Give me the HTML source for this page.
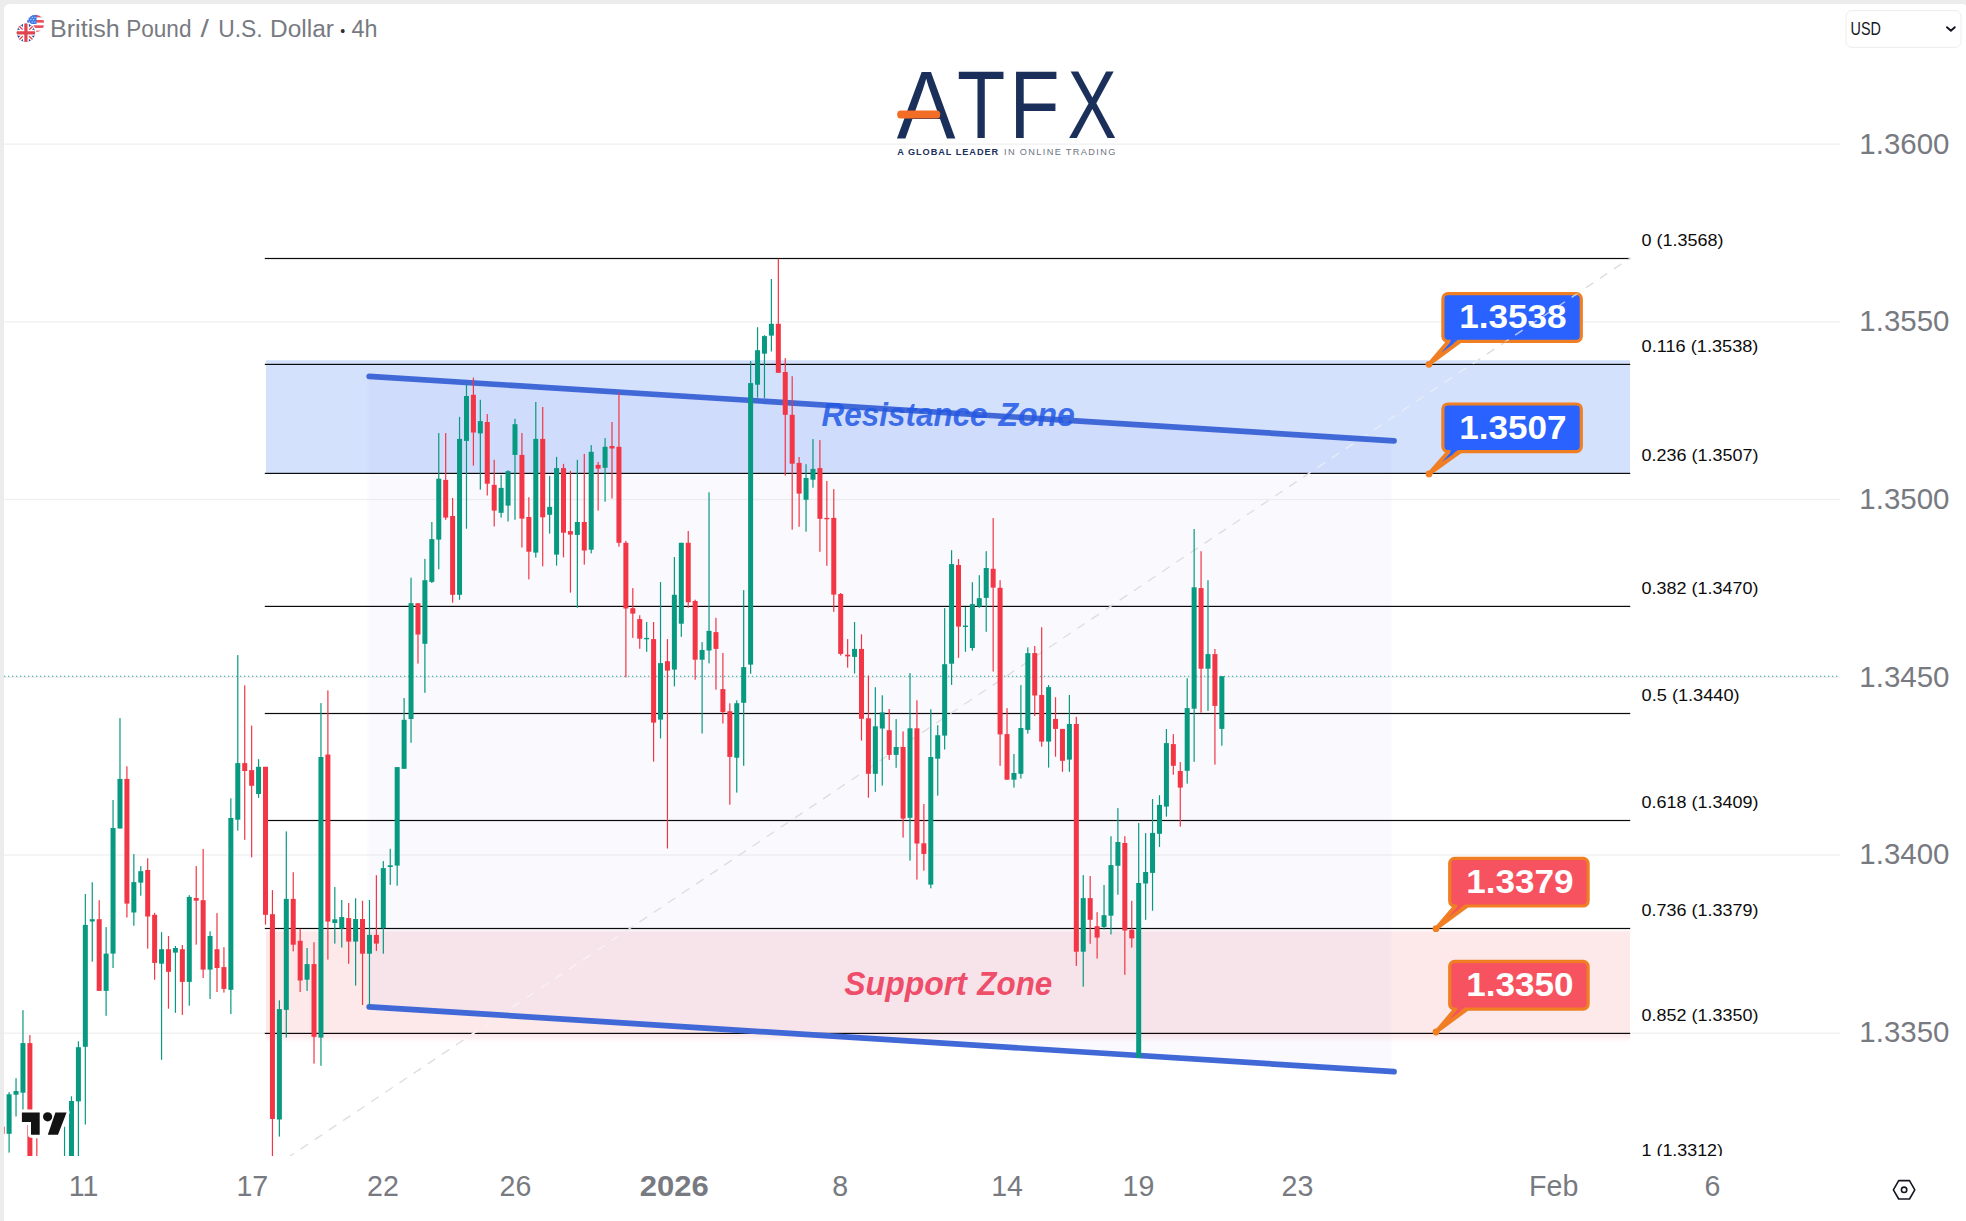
<!DOCTYPE html>
<html lang="en"><head><meta charset="utf-8"><title>GBPUSD 4h chart</title>
<style>html,body{margin:0;padding:0;background:#fff;}body{width:1966px;height:1221px;overflow:hidden;font-family:"Liberation Sans",sans-serif;}svg{display:block;}text{font-family:"Liberation Sans",sans-serif;}</style>
</head><body>
<svg width="1966" height="1221" viewBox="0 0 1966 1221">
<defs><clipPath id="chart"><rect x="4" y="4" width="1836" height="1152"/></clipPath></defs>
<rect x="0" y="0" width="1966" height="1221" fill="#ececec"/>
<path d="M4 1221 L4 10 Q4 4 10 4 L1963 4 Q1966 4 1966 7 L1966 1221 Z" fill="#ffffff"/>
<rect x="4" y="143.45" width="1836" height="1.3" fill="#f0f0f2"/>
<rect x="4" y="321.15" width="1836" height="1.3" fill="#f0f0f2"/>
<rect x="4" y="498.85" width="1836" height="1.3" fill="#f0f0f2"/>
<rect x="4" y="676.65" width="1836" height="1.3" fill="#f0f0f2"/>
<rect x="4" y="854.35" width="1836" height="1.3" fill="#f0f0f2"/>
<rect x="4" y="1032.55" width="1836" height="1.3" fill="#f0f0f2"/>
<g clip-path="url(#chart)">
<rect x="266" y="360.2" width="1364" height="112.8" fill="#d3e1fd"/>
<linearGradient id="pg" x1="0" y1="0" x2="0" y2="1"><stop offset="0" stop-color="#fde8ea" stop-opacity="0"/><stop offset="0.025" stop-color="#fde8ea" stop-opacity="1"/><stop offset="0.93" stop-color="#fde8ea" stop-opacity="1"/><stop offset="1" stop-color="#fde8ea" stop-opacity="0"/></linearGradient>
<rect x="266" y="929.6" width="1364" height="113" fill="url(#pg)"/>
<filter id="bl" x="-2%" y="-2%" width="104%" height="104%"><feGaussianBlur stdDeviation="1.3"/></filter>
<polygon points="368,376 1391,440.7 1391,1071.6 368,1006.7" fill="#4a4ad8" fill-opacity="0.036" filter="url(#bl)"/>
<rect x="264.8" y="257.90" width="1365.4" height="1.2" fill="#0a0a0a"/>
<rect x="264.8" y="363.80" width="1365.4" height="1.2" fill="#0a0a0a"/>
<rect x="264.8" y="472.80" width="1365.4" height="1.2" fill="#0a0a0a"/>
<rect x="264.8" y="605.80" width="1365.4" height="1.2" fill="#0a0a0a"/>
<rect x="264.8" y="712.90" width="1365.4" height="1.2" fill="#0a0a0a"/>
<rect x="264.8" y="819.90" width="1365.4" height="1.2" fill="#0a0a0a"/>
<rect x="264.8" y="927.90" width="1365.4" height="1.2" fill="#0a0a0a"/>
<rect x="264.8" y="1032.80" width="1365.4" height="1.2" fill="#0a0a0a"/>
<rect x="264.8" y="1167.70" width="1365.4" height="1.2" fill="#0a0a0a"/>
<line x1="4" y1="676.3" x2="1840" y2="676.3" stroke="#089981" stroke-opacity="0.9" stroke-width="1.05" stroke-dasharray="1.25 2.75"/>
<line x1="272.4" y1="1168" x2="1630" y2="258.2" stroke="#dededf" stroke-width="1.35" stroke-dasharray="9 8"/>
<clipPath id="bz"><rect x="266" y="360.2" width="1364" height="112.8"/></clipPath>
<line x1="272.4" y1="1168" x2="1630" y2="258.2" stroke="#e3ebfc" stroke-width="1.6" stroke-dasharray="9 8" clip-path="url(#bz)"/>
<clipPath id="pz"><rect x="266" y="930.5" width="1364" height="108"/></clipPath>
<line x1="272.4" y1="1168" x2="1630" y2="258.2" stroke="#fbf1f2" stroke-width="1.6" stroke-dasharray="9 8" clip-path="url(#pz)"/>
<line x1="369.2" y1="376.4" x2="1394" y2="440.9" stroke="#4068d6" stroke-width="5.7" stroke-linecap="round"/>
<line x1="369.2" y1="1006.8" x2="1394" y2="1071.7" stroke="#4068d6" stroke-width="5.7" stroke-linecap="round"/>
<rect x="1.57" y="1120.0" width="1.2" height="20.0" fill="#f23645"/><rect x="-0.33" y="1126.6" width="5" height="7.2" fill="#f23645"/>
<rect x="8.50" y="1092.1" width="1.2" height="60.5" fill="#089981"/><rect x="6.60" y="1094.3" width="5" height="39.5" fill="#089981"/>
<rect x="15.43" y="1078.2" width="1.2" height="38.3" fill="#089981"/><rect x="13.53" y="1091.0" width="5" height="3.7" fill="#089981"/>
<rect x="22.36" y="1010.2" width="1.2" height="99.8" fill="#089981"/><rect x="20.46" y="1043.1" width="5" height="49.6" fill="#089981"/>
<rect x="29.29" y="1035.1" width="1.2" height="129.9" fill="#f23645"/><rect x="27.39" y="1043.1" width="5" height="121.9" fill="#f23645"/>
<rect x="36.22" y="1138.3" width="1.2" height="26.7" fill="#f23645"/><rect x="34.32" y="1160.0" width="5" height="5.0" fill="#f23645"/>
<rect x="63.94" y="1126.6" width="1.2" height="38.4" fill="#089981"/><rect x="62.04" y="1160.0" width="5" height="5.0" fill="#089981"/>
<rect x="70.87" y="1096.3" width="1.2" height="68.7" fill="#089981"/><rect x="68.97" y="1101.0" width="5" height="64.0" fill="#089981"/>
<rect x="77.80" y="1041.3" width="1.2" height="123.7" fill="#089981"/><rect x="75.90" y="1047.2" width="5" height="54.2" fill="#089981"/>
<rect x="84.73" y="894.0" width="1.2" height="230.5" fill="#089981"/><rect x="82.83" y="924.9" width="5" height="121.9" fill="#089981"/>
<rect x="91.66" y="882.3" width="1.2" height="79.4" fill="#089981"/><rect x="89.76" y="919.2" width="5" height="2.3" fill="#089981"/>
<rect x="98.59" y="900.2" width="1.2" height="90.7" fill="#f23645"/><rect x="96.69" y="919.2" width="5" height="71.7" fill="#f23645"/>
<rect x="105.52" y="927.1" width="1.2" height="88.7" fill="#089981"/><rect x="103.62" y="953.6" width="5" height="37.3" fill="#089981"/>
<rect x="112.45" y="800.0" width="1.2" height="168.0" fill="#089981"/><rect x="110.55" y="828.0" width="5" height="125.6" fill="#089981"/>
<rect x="119.38" y="718.1" width="1.2" height="110.4" fill="#089981"/><rect x="117.48" y="778.9" width="5" height="49.6" fill="#089981"/>
<rect x="126.31" y="766.3" width="1.2" height="151.2" fill="#f23645"/><rect x="124.41" y="778.9" width="5" height="124.7" fill="#f23645"/>
<rect x="133.24" y="854.1" width="1.2" height="71.6" fill="#089981"/><rect x="131.34" y="882.1" width="5" height="30.4" fill="#089981"/>
<rect x="140.17" y="866.1" width="1.2" height="29.6" fill="#089981"/><rect x="138.27" y="871.2" width="5" height="11.4" fill="#089981"/>
<rect x="147.10" y="858.3" width="1.2" height="90.3" fill="#f23645"/><rect x="145.20" y="870.0" width="5" height="46.5" fill="#f23645"/>
<rect x="154.03" y="912.8" width="1.2" height="66.9" fill="#f23645"/><rect x="152.13" y="914.8" width="5" height="48.1" fill="#f23645"/>
<rect x="160.96" y="932.1" width="1.2" height="127.7" fill="#089981"/><rect x="159.06" y="949.2" width="5" height="14.5" fill="#089981"/>
<rect x="167.89" y="936.0" width="1.2" height="72.7" fill="#f23645"/><rect x="165.99" y="949.2" width="5" height="22.6" fill="#f23645"/>
<rect x="174.82" y="946.0" width="1.2" height="66.8" fill="#089981"/><rect x="172.92" y="948.0" width="5" height="4.6" fill="#089981"/>
<rect x="181.75" y="945.0" width="1.2" height="69.9" fill="#f23645"/><rect x="179.85" y="949.2" width="5" height="32.7" fill="#f23645"/>
<rect x="188.68" y="895.2" width="1.2" height="110.5" fill="#089981"/><rect x="186.78" y="896.9" width="5" height="85.0" fill="#089981"/>
<rect x="195.61" y="866.1" width="1.2" height="78.6" fill="#f23645"/><rect x="193.71" y="898.0" width="5" height="2.7" fill="#f23645"/>
<rect x="202.54" y="849.0" width="1.2" height="129.0" fill="#f23645"/><rect x="200.64" y="900.2" width="5" height="69.4" fill="#f23645"/>
<rect x="209.47" y="931.3" width="1.2" height="67.7" fill="#089981"/><rect x="207.57" y="936.0" width="5" height="33.6" fill="#089981"/>
<rect x="216.40" y="913.1" width="1.2" height="78.9" fill="#f23645"/><rect x="214.50" y="949.2" width="5" height="18.8" fill="#f23645"/>
<rect x="223.33" y="947.2" width="1.2" height="45.4" fill="#f23645"/><rect x="221.43" y="967.1" width="5" height="21.8" fill="#f23645"/>
<rect x="230.26" y="798.3" width="1.2" height="215.8" fill="#089981"/><rect x="228.36" y="818.0" width="5" height="171.8" fill="#089981"/>
<rect x="237.19" y="655.1" width="1.2" height="175.5" fill="#089981"/><rect x="235.29" y="763.1" width="5" height="56.6" fill="#089981"/>
<rect x="244.12" y="685.3" width="1.2" height="154.5" fill="#f23645"/><rect x="242.22" y="763.1" width="5" height="7.9" fill="#f23645"/>
<rect x="251.05" y="725.6" width="1.2" height="131.8" fill="#f23645"/><rect x="249.15" y="770.1" width="5" height="15.7" fill="#f23645"/>
<rect x="257.98" y="759.2" width="1.2" height="38.6" fill="#089981"/><rect x="256.08" y="766.8" width="5" height="27.2" fill="#089981"/>
<rect x="264.91" y="766.8" width="1.2" height="157.8" fill="#f23645"/><rect x="263.01" y="766.8" width="5" height="148.0" fill="#f23645"/>
<rect x="271.84" y="890.1" width="1.2" height="274.9" fill="#f23645"/><rect x="269.94" y="914.2" width="5" height="204.8" fill="#f23645"/>
<rect x="278.77" y="1000.3" width="1.2" height="136.3" fill="#089981"/><rect x="276.87" y="1009.1" width="5" height="110.4" fill="#089981"/>
<rect x="285.70" y="831.4" width="1.2" height="206.2" fill="#089981"/><rect x="283.80" y="898.9" width="5" height="111.0" fill="#089981"/>
<rect x="292.63" y="872.2" width="1.2" height="79.2" fill="#f23645"/><rect x="290.73" y="898.9" width="5" height="45.8" fill="#f23645"/>
<rect x="299.56" y="928.7" width="1.2" height="63.3" fill="#f23645"/><rect x="297.66" y="940.8" width="5" height="39.7" fill="#f23645"/>
<rect x="306.49" y="948.0" width="1.2" height="42.9" fill="#089981"/><rect x="304.59" y="964.1" width="5" height="15.6" fill="#089981"/>
<rect x="313.42" y="942.2" width="1.2" height="121.4" fill="#f23645"/><rect x="311.52" y="964.1" width="5" height="72.7" fill="#f23645"/>
<rect x="320.35" y="703.1" width="1.2" height="362.7" fill="#089981"/><rect x="318.45" y="757.0" width="5" height="280.6" fill="#089981"/>
<rect x="327.28" y="690.4" width="1.2" height="269.2" fill="#f23645"/><rect x="325.38" y="754.5" width="5" height="167.1" fill="#f23645"/>
<rect x="334.21" y="887.1" width="1.2" height="56.5" fill="#089981"/><rect x="332.31" y="919.3" width="5" height="3.7" fill="#089981"/>
<rect x="341.14" y="900.0" width="1.2" height="47.5" fill="#089981"/><rect x="339.24" y="917.1" width="5" height="11.4" fill="#089981"/>
<rect x="348.07" y="903.0" width="1.2" height="60.8" fill="#f23645"/><rect x="346.17" y="918.1" width="5" height="23.5" fill="#f23645"/>
<rect x="355.00" y="898.3" width="1.2" height="87.3" fill="#089981"/><rect x="353.10" y="919.0" width="5" height="22.6" fill="#089981"/>
<rect x="361.93" y="900.8" width="1.2" height="104.2" fill="#f23645"/><rect x="360.03" y="919.0" width="5" height="34.7" fill="#f23645"/>
<rect x="368.86" y="900.0" width="1.2" height="105.7" fill="#089981"/><rect x="366.96" y="934.9" width="5" height="18.8" fill="#089981"/>
<rect x="375.79" y="875.2" width="1.2" height="75.7" fill="#f23645"/><rect x="373.89" y="934.9" width="5" height="8.7" fill="#f23645"/>
<rect x="382.72" y="861.1" width="1.2" height="92.6" fill="#089981"/><rect x="380.82" y="868.1" width="5" height="60.1" fill="#089981"/>
<rect x="389.65" y="848.8" width="1.2" height="36.1" fill="#089981"/><rect x="387.75" y="865.3" width="5" height="1.7" fill="#089981"/>
<rect x="396.58" y="767.1" width="1.2" height="118.6" fill="#089981"/><rect x="394.68" y="767.1" width="5" height="98.5" fill="#089981"/>
<rect x="403.51" y="698.0" width="1.2" height="70.8" fill="#089981"/><rect x="401.61" y="719.8" width="5" height="49.0" fill="#089981"/>
<rect x="410.44" y="577.7" width="1.2" height="165.1" fill="#089981"/><rect x="408.54" y="603.2" width="5" height="115.8" fill="#089981"/>
<rect x="417.37" y="603.2" width="1.2" height="60.4" fill="#f23645"/><rect x="415.47" y="603.2" width="5" height="31.3" fill="#f23645"/>
<rect x="424.30" y="558.9" width="1.2" height="133.9" fill="#089981"/><rect x="422.40" y="580.2" width="5" height="63.6" fill="#089981"/>
<rect x="431.23" y="522.0" width="1.2" height="61.0" fill="#089981"/><rect x="429.33" y="539.1" width="5" height="42.8" fill="#089981"/>
<rect x="438.16" y="433.0" width="1.2" height="136.3" fill="#089981"/><rect x="436.26" y="478.7" width="5" height="60.9" fill="#089981"/>
<rect x="445.09" y="433.0" width="1.2" height="86.8" fill="#f23645"/><rect x="443.19" y="479.9" width="5" height="37.7" fill="#f23645"/>
<rect x="452.02" y="498.0" width="1.2" height="104.7" fill="#f23645"/><rect x="450.12" y="516.0" width="5" height="78.8" fill="#f23645"/>
<rect x="458.95" y="416.9" width="1.2" height="182.9" fill="#089981"/><rect x="457.05" y="438.9" width="5" height="155.9" fill="#089981"/>
<rect x="465.88" y="384.7" width="1.2" height="144.0" fill="#089981"/><rect x="463.98" y="396.0" width="5" height="44.9" fill="#089981"/>
<rect x="472.81" y="377.6" width="1.2" height="88.0" fill="#f23645"/><rect x="470.91" y="394.8" width="5" height="37.7" fill="#f23645"/>
<rect x="479.74" y="399.8" width="1.2" height="89.8" fill="#089981"/><rect x="477.84" y="421.1" width="5" height="12.3" fill="#089981"/>
<rect x="486.67" y="414.1" width="1.2" height="81.4" fill="#f23645"/><rect x="484.77" y="422.0" width="5" height="61.7" fill="#f23645"/>
<rect x="493.60" y="459.9" width="1.2" height="66.6" fill="#f23645"/><rect x="491.70" y="484.9" width="5" height="25.7" fill="#f23645"/>
<rect x="500.53" y="475.0" width="1.2" height="42.6" fill="#089981"/><rect x="498.63" y="487.9" width="5" height="24.9" fill="#089981"/>
<rect x="507.46" y="470.3" width="1.2" height="51.2" fill="#089981"/><rect x="505.56" y="471.2" width="5" height="34.4" fill="#089981"/>
<rect x="514.39" y="418.8" width="1.2" height="101.0" fill="#089981"/><rect x="512.49" y="424.2" width="5" height="30.7" fill="#089981"/>
<rect x="521.32" y="433.0" width="1.2" height="114.5" fill="#f23645"/><rect x="519.42" y="454.9" width="5" height="63.7" fill="#f23645"/>
<rect x="528.25" y="497.2" width="1.2" height="82.2" fill="#f23645"/><rect x="526.35" y="517.0" width="5" height="34.7" fill="#f23645"/>
<rect x="535.18" y="402.0" width="1.2" height="155.6" fill="#089981"/><rect x="533.28" y="438.9" width="5" height="113.7" fill="#089981"/>
<rect x="542.11" y="407.0" width="1.2" height="159.3" fill="#f23645"/><rect x="540.21" y="438.9" width="5" height="78.4" fill="#f23645"/>
<rect x="549.04" y="475.9" width="1.2" height="57.7" fill="#089981"/><rect x="547.14" y="506.9" width="5" height="7.9" fill="#089981"/>
<rect x="555.97" y="456.9" width="1.2" height="108.7" fill="#089981"/><rect x="554.07" y="468.1" width="5" height="86.5" fill="#089981"/>
<rect x="562.90" y="463.9" width="1.2" height="93.4" fill="#f23645"/><rect x="561.00" y="468.1" width="5" height="64.6" fill="#f23645"/>
<rect x="569.83" y="470.8" width="1.2" height="121.8" fill="#f23645"/><rect x="567.93" y="531.1" width="5" height="3.5" fill="#f23645"/>
<rect x="576.76" y="459.9" width="1.2" height="147.8" fill="#089981"/><rect x="574.86" y="522.0" width="5" height="12.9" fill="#089981"/>
<rect x="583.69" y="453.9" width="1.2" height="110.7" fill="#f23645"/><rect x="581.79" y="522.0" width="5" height="28.5" fill="#f23645"/>
<rect x="590.62" y="445.1" width="1.2" height="108.3" fill="#089981"/><rect x="588.72" y="451.8" width="5" height="97.9" fill="#089981"/>
<rect x="597.55" y="461.9" width="1.2" height="48.7" fill="#f23645"/><rect x="595.65" y="464.9" width="5" height="3.7" fill="#f23645"/>
<rect x="604.48" y="438.1" width="1.2" height="63.6" fill="#089981"/><rect x="602.58" y="446.8" width="5" height="21.0" fill="#089981"/>
<rect x="611.41" y="422.0" width="1.2" height="76.5" fill="#f23645"/><rect x="609.51" y="446.0" width="5" height="2.5" fill="#f23645"/>
<rect x="618.34" y="392.8" width="1.2" height="153.9" fill="#f23645"/><rect x="616.44" y="446.8" width="5" height="96.0" fill="#f23645"/>
<rect x="625.27" y="540.8" width="1.2" height="136.5" fill="#f23645"/><rect x="623.37" y="542.8" width="5" height="65.7" fill="#f23645"/>
<rect x="632.20" y="588.1" width="1.2" height="49.8" fill="#f23645"/><rect x="630.30" y="608.2" width="5" height="5.4" fill="#f23645"/>
<rect x="639.13" y="615.2" width="1.2" height="33.6" fill="#f23645"/><rect x="637.23" y="619.1" width="5" height="19.6" fill="#f23645"/>
<rect x="646.06" y="622.0" width="1.2" height="29.8" fill="#089981"/><rect x="644.16" y="637.9" width="5" height="1.4" fill="#089981"/>
<rect x="652.99" y="622.0" width="1.2" height="139.6" fill="#f23645"/><rect x="651.09" y="639.1" width="5" height="83.5" fill="#f23645"/>
<rect x="659.92" y="582.1" width="1.2" height="156.3" fill="#089981"/><rect x="658.02" y="663.1" width="5" height="56.5" fill="#089981"/>
<rect x="666.85" y="639.1" width="1.2" height="209.4" fill="#f23645"/><rect x="664.95" y="661.2" width="5" height="9.4" fill="#f23645"/>
<rect x="673.78" y="557.0" width="1.2" height="129.4" fill="#089981"/><rect x="671.88" y="594.8" width="5" height="74.8" fill="#089981"/>
<rect x="680.71" y="542.8" width="1.2" height="94.0" fill="#089981"/><rect x="678.81" y="542.8" width="5" height="80.9" fill="#089981"/>
<rect x="687.64" y="531.0" width="1.2" height="76.7" fill="#f23645"/><rect x="685.74" y="542.8" width="5" height="59.4" fill="#f23645"/>
<rect x="694.57" y="599.7" width="1.2" height="80.0" fill="#f23645"/><rect x="692.67" y="601.0" width="5" height="58.7" fill="#f23645"/>
<rect x="701.50" y="642.1" width="1.2" height="91.4" fill="#089981"/><rect x="699.60" y="650.0" width="5" height="9.7" fill="#089981"/>
<rect x="708.43" y="492.3" width="1.2" height="171.1" fill="#089981"/><rect x="706.53" y="630.9" width="5" height="19.6" fill="#089981"/>
<rect x="715.36" y="617.8" width="1.2" height="71.9" fill="#f23645"/><rect x="713.46" y="632.1" width="5" height="16.8" fill="#f23645"/>
<rect x="722.29" y="653.0" width="1.2" height="70.5" fill="#f23645"/><rect x="720.39" y="689.1" width="5" height="23.0" fill="#f23645"/>
<rect x="729.22" y="703.3" width="1.2" height="101.4" fill="#f23645"/><rect x="727.32" y="711.2" width="5" height="45.7" fill="#f23645"/>
<rect x="736.15" y="700.3" width="1.2" height="92.3" fill="#089981"/><rect x="734.25" y="703.2" width="5" height="54.5" fill="#089981"/>
<rect x="743.08" y="590.1" width="1.2" height="175.7" fill="#089981"/><rect x="741.18" y="667.1" width="5" height="35.7" fill="#089981"/>
<rect x="750.01" y="361.1" width="1.2" height="312.7" fill="#089981"/><rect x="748.11" y="383.1" width="5" height="281.5" fill="#089981"/>
<rect x="756.94" y="327.2" width="1.2" height="70.5" fill="#089981"/><rect x="755.04" y="350.2" width="5" height="34.5" fill="#089981"/>
<rect x="763.87" y="335.2" width="1.2" height="62.8" fill="#089981"/><rect x="761.97" y="336.1" width="5" height="17.6" fill="#089981"/>
<rect x="770.80" y="279.0" width="1.2" height="72.5" fill="#089981"/><rect x="768.90" y="323.8" width="5" height="11.8" fill="#089981"/>
<rect x="777.73" y="258.7" width="1.2" height="114.1" fill="#f23645"/><rect x="775.83" y="323.8" width="5" height="49.0" fill="#f23645"/>
<rect x="784.66" y="358.2" width="1.2" height="117.4" fill="#f23645"/><rect x="782.76" y="372.0" width="5" height="42.8" fill="#f23645"/>
<rect x="791.59" y="376.2" width="1.2" height="153.5" fill="#f23645"/><rect x="789.69" y="414.8" width="5" height="48.9" fill="#f23645"/>
<rect x="798.52" y="457.0" width="1.2" height="69.8" fill="#f23645"/><rect x="796.62" y="462.9" width="5" height="30.7" fill="#f23645"/>
<rect x="805.45" y="464.2" width="1.2" height="67.5" fill="#089981"/><rect x="803.55" y="478.0" width="5" height="21.8" fill="#089981"/>
<rect x="812.38" y="439.1" width="1.2" height="48.6" fill="#089981"/><rect x="810.48" y="468.9" width="5" height="10.8" fill="#089981"/>
<rect x="819.31" y="440.1" width="1.2" height="111.7" fill="#f23645"/><rect x="817.41" y="468.1" width="5" height="50.7" fill="#f23645"/>
<rect x="826.24" y="481.0" width="1.2" height="84.8" fill="#f23645"/><rect x="824.34" y="517.9" width="5" height="1.4" fill="#f23645"/>
<rect x="833.17" y="489.1" width="1.2" height="122.8" fill="#f23645"/><rect x="831.27" y="517.9" width="5" height="76.7" fill="#f23645"/>
<rect x="840.10" y="593.0" width="1.2" height="62.6" fill="#f23645"/><rect x="838.20" y="594.0" width="5" height="59.9" fill="#f23645"/>
<rect x="847.03" y="639.1" width="1.2" height="28.5" fill="#f23645"/><rect x="845.13" y="654.7" width="5" height="1.7" fill="#f23645"/>
<rect x="853.96" y="622.0" width="1.2" height="51.5" fill="#089981"/><rect x="852.06" y="648.9" width="5" height="8.0" fill="#089981"/>
<rect x="860.89" y="634.3" width="1.2" height="106.3" fill="#f23645"/><rect x="858.99" y="648.9" width="5" height="69.9" fill="#f23645"/>
<rect x="867.82" y="675.5" width="1.2" height="122.2" fill="#f23645"/><rect x="865.92" y="718.3" width="5" height="55.5" fill="#f23645"/>
<rect x="874.75" y="687.2" width="1.2" height="104.6" fill="#089981"/><rect x="872.85" y="726.3" width="5" height="47.5" fill="#089981"/>
<rect x="881.68" y="695.3" width="1.2" height="90.3" fill="#089981"/><rect x="879.78" y="712.4" width="5" height="16.1" fill="#089981"/>
<rect x="888.61" y="709.0" width="1.2" height="50.9" fill="#f23645"/><rect x="886.71" y="730.2" width="5" height="24.7" fill="#f23645"/>
<rect x="895.54" y="719.1" width="1.2" height="48.7" fill="#089981"/><rect x="893.64" y="747.0" width="5" height="7.9" fill="#089981"/>
<rect x="902.47" y="731.4" width="1.2" height="106.2" fill="#f23645"/><rect x="900.57" y="747.0" width="5" height="71.6" fill="#f23645"/>
<rect x="909.40" y="673.1" width="1.2" height="187.5" fill="#089981"/><rect x="907.50" y="728.3" width="5" height="89.5" fill="#089981"/>
<rect x="916.33" y="700.3" width="1.2" height="179.3" fill="#f23645"/><rect x="914.43" y="728.3" width="5" height="115.2" fill="#f23645"/>
<rect x="923.26" y="804.0" width="1.2" height="66.7" fill="#f23645"/><rect x="921.36" y="843.3" width="5" height="10.6" fill="#f23645"/>
<rect x="930.19" y="709.2" width="1.2" height="179.1" fill="#089981"/><rect x="928.29" y="757.0" width="5" height="127.6" fill="#089981"/>
<rect x="937.12" y="725.2" width="1.2" height="70.4" fill="#089981"/><rect x="935.22" y="735.2" width="5" height="23.5" fill="#089981"/>
<rect x="944.05" y="608.1" width="1.2" height="141.4" fill="#089981"/><rect x="942.15" y="664.2" width="5" height="71.4" fill="#089981"/>
<rect x="950.98" y="550.2" width="1.2" height="134.7" fill="#089981"/><rect x="949.08" y="564.1" width="5" height="99.6" fill="#089981"/>
<rect x="957.91" y="559.1" width="1.2" height="98.7" fill="#f23645"/><rect x="956.01" y="565.0" width="5" height="61.6" fill="#f23645"/>
<rect x="964.84" y="607.0" width="1.2" height="44.8" fill="#089981"/><rect x="962.94" y="625.6" width="5" height="1.4" fill="#089981"/>
<rect x="971.77" y="582.2" width="1.2" height="68.5" fill="#089981"/><rect x="969.87" y="604.1" width="5" height="43.9" fill="#089981"/>
<rect x="978.70" y="575.2" width="1.2" height="32.6" fill="#089981"/><rect x="976.80" y="598.2" width="5" height="8.4" fill="#089981"/>
<rect x="985.63" y="551.2" width="1.2" height="80.6" fill="#089981"/><rect x="983.73" y="568.0" width="5" height="29.9" fill="#089981"/>
<rect x="992.56" y="518.1" width="1.2" height="153.4" fill="#f23645"/><rect x="990.66" y="568.8" width="5" height="18.8" fill="#f23645"/>
<rect x="999.49" y="580.2" width="1.2" height="185.6" fill="#f23645"/><rect x="997.59" y="587.8" width="5" height="146.6" fill="#f23645"/>
<rect x="1006.42" y="708.1" width="1.2" height="71.6" fill="#f23645"/><rect x="1004.52" y="734.1" width="5" height="45.6" fill="#f23645"/>
<rect x="1013.35" y="754.0" width="1.2" height="33.6" fill="#089981"/><rect x="1011.45" y="773.0" width="5" height="6.7" fill="#089981"/>
<rect x="1020.28" y="685.1" width="1.2" height="93.4" fill="#089981"/><rect x="1018.38" y="728.0" width="5" height="45.8" fill="#089981"/>
<rect x="1027.21" y="647.4" width="1.2" height="86.2" fill="#089981"/><rect x="1025.31" y="653.1" width="5" height="76.8" fill="#089981"/>
<rect x="1034.14" y="646.0" width="1.2" height="70.0" fill="#f23645"/><rect x="1032.24" y="653.1" width="5" height="42.4" fill="#f23645"/>
<rect x="1041.07" y="627.2" width="1.2" height="119.5" fill="#f23645"/><rect x="1039.17" y="695.0" width="5" height="46.6" fill="#f23645"/>
<rect x="1048.00" y="685.0" width="1.2" height="82.6" fill="#089981"/><rect x="1046.10" y="687.1" width="5" height="54.5" fill="#089981"/>
<rect x="1054.93" y="697.2" width="1.2" height="59.5" fill="#f23645"/><rect x="1053.03" y="719.0" width="5" height="9.9" fill="#f23645"/>
<rect x="1061.86" y="728.9" width="1.2" height="42.9" fill="#f23645"/><rect x="1059.96" y="728.9" width="5" height="31.9" fill="#f23645"/>
<rect x="1068.79" y="695.0" width="1.2" height="76.8" fill="#089981"/><rect x="1066.89" y="724.0" width="5" height="35.6" fill="#089981"/>
<rect x="1075.72" y="716.8" width="1.2" height="249.1" fill="#f23645"/><rect x="1073.82" y="724.0" width="5" height="227.7" fill="#f23645"/>
<rect x="1082.65" y="875.1" width="1.2" height="111.5" fill="#089981"/><rect x="1080.75" y="898.1" width="5" height="53.6" fill="#089981"/>
<rect x="1089.58" y="876.0" width="1.2" height="67.8" fill="#f23645"/><rect x="1087.68" y="898.1" width="5" height="21.7" fill="#f23645"/>
<rect x="1096.51" y="912.2" width="1.2" height="46.4" fill="#f23645"/><rect x="1094.61" y="926.2" width="5" height="11.4" fill="#f23645"/>
<rect x="1103.44" y="885.0" width="1.2" height="44.5" fill="#089981"/><rect x="1101.54" y="915.2" width="5" height="11.8" fill="#089981"/>
<rect x="1110.37" y="836.2" width="1.2" height="98.3" fill="#089981"/><rect x="1108.47" y="865.1" width="5" height="50.6" fill="#089981"/>
<rect x="1117.30" y="808.1" width="1.2" height="86.6" fill="#089981"/><rect x="1115.40" y="842.0" width="5" height="23.8" fill="#089981"/>
<rect x="1124.23" y="836.2" width="1.2" height="138.6" fill="#f23645"/><rect x="1122.33" y="843.0" width="5" height="87.5" fill="#f23645"/>
<rect x="1131.16" y="900.8" width="1.2" height="46.8" fill="#f23645"/><rect x="1129.26" y="929.8" width="5" height="8.6" fill="#f23645"/>
<rect x="1138.09" y="823.0" width="1.2" height="234.9" fill="#089981"/><rect x="1136.19" y="883.0" width="5" height="174.9" fill="#089981"/>
<rect x="1145.02" y="833.1" width="1.2" height="86.7" fill="#089981"/><rect x="1143.12" y="872.0" width="5" height="11.5" fill="#089981"/>
<rect x="1151.95" y="799.0" width="1.2" height="111.7" fill="#089981"/><rect x="1150.05" y="832.9" width="5" height="40.0" fill="#089981"/>
<rect x="1158.88" y="795.2" width="1.2" height="51.7" fill="#089981"/><rect x="1156.98" y="804.9" width="5" height="28.9" fill="#089981"/>
<rect x="1165.81" y="729.0" width="1.2" height="87.6" fill="#089981"/><rect x="1163.91" y="743.1" width="5" height="63.5" fill="#089981"/>
<rect x="1172.74" y="734.1" width="1.2" height="40.6" fill="#f23645"/><rect x="1170.84" y="744.1" width="5" height="21.7" fill="#f23645"/>
<rect x="1179.67" y="762.1" width="1.2" height="64.6" fill="#f23645"/><rect x="1177.77" y="771.0" width="5" height="16.6" fill="#f23645"/>
<rect x="1186.60" y="678.2" width="1.2" height="105.4" fill="#089981"/><rect x="1184.70" y="708.1" width="5" height="62.7" fill="#089981"/>
<rect x="1193.53" y="529.0" width="1.2" height="232.8" fill="#089981"/><rect x="1191.63" y="587.3" width="5" height="121.4" fill="#089981"/>
<rect x="1200.46" y="551.2" width="1.2" height="161.4" fill="#f23645"/><rect x="1198.56" y="588.1" width="5" height="80.6" fill="#f23645"/>
<rect x="1207.39" y="580.2" width="1.2" height="130.7" fill="#089981"/><rect x="1205.49" y="654.1" width="5" height="14.6" fill="#089981"/>
<rect x="1214.32" y="649.0" width="1.2" height="115.6" fill="#f23645"/><rect x="1212.42" y="654.1" width="5" height="51.8" fill="#f23645"/>
<rect x="1221.25" y="676.2" width="1.2" height="69.5" fill="#089981"/><rect x="1219.35" y="676.2" width="5" height="52.7" fill="#089981"/>
<text y="426.4" font-size="32.5" font-weight="bold" font-style="italic" fill="#2258e6" fill-opacity="0.86"><tspan x="821.6" textLength="166" lengthAdjust="spacingAndGlyphs">Resistance</tspan> <tspan x="998.4" textLength="76.5" lengthAdjust="spacingAndGlyphs">Zone</tspan></text>
<text y="994.7" font-size="32.5" font-weight="bold" font-style="italic" fill="#ee3f5c" fill-opacity="0.92"><tspan x="844.3" textLength="122.5" lengthAdjust="spacingAndGlyphs">Support</tspan> <tspan x="977.3" textLength="75" lengthAdjust="spacingAndGlyphs">Zone</tspan></text>
<text x="1641.6" y="245.9" font-size="17" fill="#0c0c0c" textLength="81.9" lengthAdjust="spacingAndGlyphs">0 (1.3568)</text>
<text x="1641.6" y="351.8" font-size="17" fill="#0c0c0c" textLength="116.8" lengthAdjust="spacingAndGlyphs">0.116 (1.3538)</text>
<text x="1641.6" y="460.8" font-size="17" fill="#0c0c0c" textLength="116.8" lengthAdjust="spacingAndGlyphs">0.236 (1.3507)</text>
<text x="1641.6" y="593.8" font-size="17" fill="#0c0c0c" textLength="116.8" lengthAdjust="spacingAndGlyphs">0.382 (1.3470)</text>
<text x="1641.6" y="700.9" font-size="17" fill="#0c0c0c" textLength="98" lengthAdjust="spacingAndGlyphs">0.5 (1.3440)</text>
<text x="1641.6" y="807.9" font-size="17" fill="#0c0c0c" textLength="116.8" lengthAdjust="spacingAndGlyphs">0.618 (1.3409)</text>
<text x="1641.6" y="915.9" font-size="17" fill="#0c0c0c" textLength="116.8" lengthAdjust="spacingAndGlyphs">0.736 (1.3379)</text>
<text x="1641.6" y="1020.8" font-size="17" fill="#0c0c0c" textLength="116.8" lengthAdjust="spacingAndGlyphs">0.852 (1.3350)</text>
<text x="1641.6" y="1155.7" font-size="17" fill="#0c0c0c" textLength="81.4" lengthAdjust="spacingAndGlyphs">1 (1.3312)</text>
</g>
<path d="M1448.6 341.3 L1460.1 341.3 L1429.0 364.3 Z" fill="#2962ff" stroke="#f07f24" stroke-width="3.9" stroke-linejoin="round"/>
<rect x="1442.9" y="293.7" width="138.4" height="47.6" rx="5" ry="5" fill="#2962ff" stroke="#f07f24" stroke-width="3.2"/>
<path d="M1450.8 339.3 L1458.6 339.3 L1449.3 346.3 Z" fill="#2962ff"/>
<circle cx="1429.0" cy="364.3" r="3.4" fill="#f07f24"/>
<text x="1459.2" y="328.3" font-size="33.2" font-weight="bold" fill="#ffffff" textLength="107.4" lengthAdjust="spacingAndGlyphs">1.3538</text>
<path d="M1448.6 451.6 L1460.1 451.6 L1429.0 473.9 Z" fill="#2962ff" stroke="#f07f24" stroke-width="3.9" stroke-linejoin="round"/>
<rect x="1442.9" y="404.0" width="138.4" height="47.6" rx="5" ry="5" fill="#2962ff" stroke="#f07f24" stroke-width="3.2"/>
<path d="M1450.8 449.6 L1458.6 449.6 L1449.3 456.6 Z" fill="#2962ff"/>
<circle cx="1429.0" cy="473.9" r="3.4" fill="#f07f24"/>
<text x="1459.2" y="438.6" font-size="33.2" font-weight="bold" fill="#ffffff" textLength="107.4" lengthAdjust="spacingAndGlyphs">1.3507</text>
<path d="M1455.4 906.0 L1466.9 906.0 L1436.0 928.7 Z" fill="#f7525f" stroke="#f07f24" stroke-width="3.9" stroke-linejoin="round"/>
<rect x="1449.7" y="858.3" width="138.4" height="47.7" rx="5" ry="5" fill="#f7525f" stroke="#f07f24" stroke-width="3.2"/>
<path d="M1457.6 904.0 L1465.4 904.0 L1456.1 911.0 Z" fill="#f7525f"/>
<circle cx="1436.0" cy="928.7" r="3.4" fill="#f07f24"/>
<text x="1466.2" y="893.3" font-size="33.2" font-weight="bold" fill="#ffffff" textLength="107.4" lengthAdjust="spacingAndGlyphs">1.3379</text>
<path d="M1455.4 1009.1 L1466.9 1009.1 L1436.0 1032.0 Z" fill="#f7525f" stroke="#f07f24" stroke-width="3.9" stroke-linejoin="round"/>
<rect x="1449.7" y="961.4" width="138.4" height="47.7" rx="5" ry="5" fill="#f7525f" stroke="#f07f24" stroke-width="3.2"/>
<path d="M1457.6 1007.1 L1465.4 1007.1 L1456.1 1014.1 Z" fill="#f7525f"/>
<circle cx="1436.0" cy="1032.0" r="3.4" fill="#f07f24"/>
<text x="1466.2" y="996.4" font-size="33.2" font-weight="bold" fill="#ffffff" textLength="107.4" lengthAdjust="spacingAndGlyphs">1.3350</text>
<clipPath id="cb"><rect x="1443" y="293.5" width="138.5" height="48"/><rect x="1443" y="404" width="138.5" height="48"/></clipPath>
<line x1="272.4" y1="1168" x2="1630" y2="258.2" stroke="#e4e9f6" stroke-opacity="0.75" stroke-width="1.4" stroke-dasharray="9 8" clip-path="url(#cb)"/>
<g>
<clipPath id="us"><circle cx="35.6" cy="23.3" r="8.6"/></clipPath>
<g clip-path="url(#us)"><rect x="26" y="14" width="20" height="19" fill="#fff"/>
<rect x="26" y="14.70" width="20" height="2.65" fill="#e8505b"/>
<rect x="26" y="20.00" width="20" height="2.65" fill="#e8505b"/>
<rect x="26" y="25.30" width="20" height="2.65" fill="#e8505b"/>
<rect x="26" y="30.60" width="20" height="2.65" fill="#e8505b"/>
<rect x="26" y="14" width="10.5" height="10" fill="#3d7be8"/>
<circle cx="29.5" cy="17.2" r="0.55" fill="#fff"/>
<circle cx="32.2" cy="17.2" r="0.55" fill="#fff"/>
<circle cx="34.9" cy="17.2" r="0.55" fill="#fff"/>
<circle cx="28.2" cy="19.6" r="0.55" fill="#fff"/>
<circle cx="30.9" cy="19.6" r="0.55" fill="#fff"/>
<circle cx="33.6" cy="19.6" r="0.55" fill="#fff"/>
<circle cx="29.5" cy="22" r="0.55" fill="#fff"/>
<circle cx="32.2" cy="22" r="0.55" fill="#fff"/>
<circle cx="34.9" cy="22" r="0.55" fill="#fff"/>
</g>
<circle cx="25.9" cy="32.8" r="10.6" fill="#fff"/>
<clipPath id="uk"><circle cx="25.9" cy="32.8" r="9.2"/></clipPath>
<g clip-path="url(#uk)"><rect x="16" y="23" width="20" height="20" fill="#1f3f8f"/>
<path d="M16 23 L36 43 M36 23 L16 43" stroke="#fff" stroke-width="4"/>
<path d="M16 23 L36 43 M36 23 L16 43" stroke="#e0444f" stroke-width="1.4"/>
<path d="M25.9 22 V44 M15 32.8 H37" stroke="#fff" stroke-width="6"/>
<path d="M25.9 22 V44 M15 32.8 H37" stroke="#e0444f" stroke-width="3.2"/></g>
</g>
<text y="36.6" font-size="23" fill="#787a81"><tspan x="50.0" textLength="69.7" lengthAdjust="spacingAndGlyphs">British</tspan> <tspan x="126.2" textLength="65.3" lengthAdjust="spacingAndGlyphs">Pound</tspan> <tspan x="200.4" textLength="8.4" lengthAdjust="spacingAndGlyphs">/</tspan> <tspan x="218.2" textLength="44.4" lengthAdjust="spacingAndGlyphs">U.S.</tspan> <tspan x="270.0" textLength="63.9" lengthAdjust="spacingAndGlyphs">Dollar</tspan> <tspan x="340.2" y="35.5" font-size="14" fill="#2a2e39">•</tspan> <tspan x="351.6" y="36.6" textLength="26" lengthAdjust="spacingAndGlyphs">4h</tspan></text>
<rect x="1846" y="10.6" width="115" height="36.8" rx="6" ry="6" fill="#fff" stroke="#ededed" stroke-width="1"/>
<text x="1850.6" y="34.8" font-size="17.7" fill="#131722" textLength="30.4" lengthAdjust="spacingAndGlyphs">USD</text>
<path d="M1947 27.2 L1950.9 30.8 L1954.8 27.2" fill="none" stroke="#131722" stroke-width="1.9" stroke-linecap="round" stroke-linejoin="round"/>
<text x="1859.3" y="153.8" font-size="29.6" fill="#787a81" textLength="90.2" lengthAdjust="spacingAndGlyphs">1.3600</text>
<text x="1859.3" y="331.4" font-size="29.6" fill="#787a81" textLength="90.2" lengthAdjust="spacingAndGlyphs">1.3550</text>
<text x="1859.3" y="509.0" font-size="29.6" fill="#787a81" textLength="90.2" lengthAdjust="spacingAndGlyphs">1.3500</text>
<text x="1859.3" y="686.6" font-size="29.6" fill="#787a81" textLength="90.2" lengthAdjust="spacingAndGlyphs">1.3450</text>
<text x="1859.3" y="864.2" font-size="29.6" fill="#787a81" textLength="90.2" lengthAdjust="spacingAndGlyphs">1.3400</text>
<text x="1859.3" y="1041.8" font-size="29.6" fill="#787a81" textLength="90.2" lengthAdjust="spacingAndGlyphs">1.3350</text>
<text x="83.7" y="1195.8" font-size="28.6" fill="#787a81" text-anchor="middle">11</text>
<text x="252.3" y="1195.8" font-size="28.6" fill="#787a81" text-anchor="middle">17</text>
<text x="383.0" y="1195.8" font-size="28.6" fill="#787a81" text-anchor="middle">22</text>
<text x="515.4" y="1195.8" font-size="28.6" fill="#787a81" text-anchor="middle">26</text>
<text x="674.3" y="1195.8" font-size="28.6" fill="#787a81" text-anchor="middle" font-weight="bold" textLength="69" lengthAdjust="spacingAndGlyphs">2026</text>
<text x="840.1" y="1195.8" font-size="28.6" fill="#787a81" text-anchor="middle">8</text>
<text x="1007.1" y="1195.8" font-size="28.6" fill="#787a81" text-anchor="middle">14</text>
<text x="1138.5" y="1195.8" font-size="28.6" fill="#787a81" text-anchor="middle">19</text>
<text x="1297.5" y="1195.8" font-size="28.6" fill="#787a81" text-anchor="middle">23</text>
<text x="1553.7" y="1195.8" font-size="28.6" fill="#787a81" text-anchor="middle">Feb</text>
<text x="1712.5" y="1195.8" font-size="28.6" fill="#787a81" text-anchor="middle">6</text>
<path d="M1893.4 1189.8 L1898.7 1180.6 L1909.5 1180.6 L1914.8 1189.8 L1909.5 1199 L1898.7 1199 Z" fill="none" stroke="#131722" stroke-width="1.6" stroke-linejoin="round"/>
<circle cx="1904.1" cy="1189.8" r="2.7" fill="none" stroke="#131722" stroke-width="1.6"/>
<g stroke="#fff" stroke-width="6" stroke-linejoin="round"><path d="M21.9 1112.5 H39.7 V1134.8 H31 V1121.9 H21.9 Z" fill="#fff"/><circle cx="47.6" cy="1116.8" r="4.6" fill="#fff"/><path d="M55.4 1112.5 H66.6 L58 1134.8 H47.8 Z" fill="#fff"/></g>
<g fill="#131313"><path d="M21.9 1112.5 H39.7 V1134.8 H31 V1121.9 H21.9 Z"/><circle cx="47.6" cy="1116.8" r="4.6"/><path d="M55.4 1112.5 H66.6 L58 1134.8 H47.8 Z"/></g>
<text transform="translate(0 138.3) scale(1 1.05)" y="0" font-size="91" fill="#1b2f5b"><tspan x="896.7" textLength="58.8" lengthAdjust="spacingAndGlyphs">A</tspan><tspan x="956.95" textLength="48.3" lengthAdjust="spacingAndGlyphs">T</tspan><tspan x="1009.15" textLength="50.5" lengthAdjust="spacingAndGlyphs">F</tspan><tspan x="1067.4" textLength="49.2" lengthAdjust="spacingAndGlyphs">X</tspan></text>
<rect x="897.2" y="110.6" width="43" height="8" rx="3.5" fill="#f26d25"/>
<text y="154.7" font-size="9.2"><tspan x="897.2" font-weight="bold" fill="#1b2f5b" textLength="101" lengthAdjust="spacing">A GLOBAL LEADER</tspan> <tspan x="1004" fill="#6d7382" textLength="111.3" lengthAdjust="spacing">IN ONLINE TRADING</tspan></text>
</svg></body></html>
